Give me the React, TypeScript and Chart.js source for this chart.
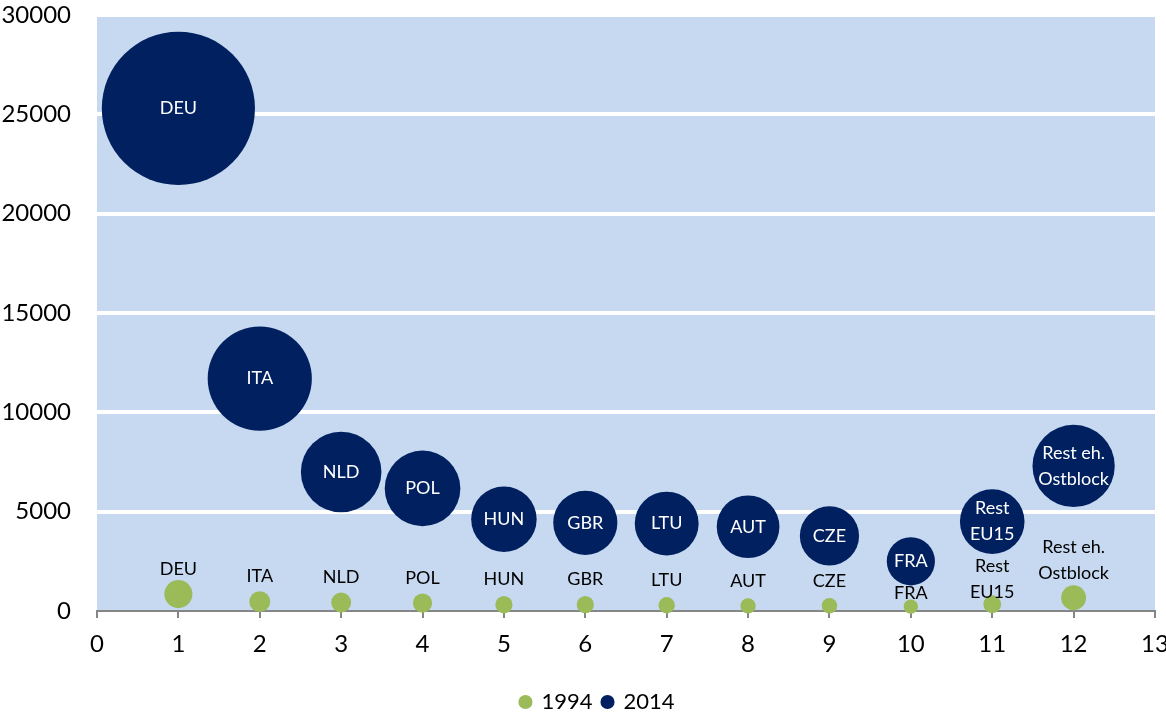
import React, { useEffect, useRef } from "react";
import { Chart, registerables } from "chart.js";

Chart.register(...registerables);

// ---- data ----
const countries = [
  "DEU",
  "ITA",
  "NLD",
  "POL",
  "HUN",
  "GBR",
  "LTU",
  "AUT",
  "CZE",
  "FRA",
  "Rest\nEU15",
  "Rest eh.\nOstblock",
];
const xPositions = [1, 2, 3, 4, 5, 6, 7, 8, 9, 10, 11, 12];
const values1994 = [850, 470, 430, 400, 320, 320, 290, 255, 260, 220, 340, 670];
const values2014 = [25300, 11700, 7000, 6170, 4620, 4440, 4400, 4240, 3780, 2500, 4500, 7300];
const seriesNames = ["1994", "2014"];

// ---- style ----
const GREEN = "#9BBB59";
const NAVY = "#002060";
const PLOT_BG = "#C6D9F1";
const AXIS_GRAY = "#868686";
const FONT = "Lato, 'Open Sans', sans-serif";
const LABEL_FONT_SIZE = 18;
const LABEL_LINE_H = 26;
const LABEL_ABOVE = 25;
const LABEL_NUDGE_1994: Record<string, number> = { FRA: 12, "Rest\nEU15": 13 };
const LEGEND_SHIFT_X = 20;
const LEGEND_SHIFT_Y = 2;

const MAX_VALUE = Math.max(...values1994, ...values2014);

const bgPlugin = {
  id: "plotBg",
  afterLayout(chart: any) {
    const lg = chart.legend;
    if (lg) {
      lg.left += LEGEND_SHIFT_X;
      lg.right += LEGEND_SHIFT_X;
      lg.top += LEGEND_SHIFT_Y;
      lg.bottom += LEGEND_SHIFT_Y;
    }
  },
  beforeDraw(chart: any) {
    const { ctx, chartArea } = chart;
    if (!chartArea) return;
    ctx.save();
    ctx.fillStyle = PLOT_BG;
    ctx.fillRect(chartArea.left, chartArea.top, chartArea.right - chartArea.left, chartArea.bottom - chartArea.top);
    ctx.restore();
  },
};

const labelPlugin = {
  id: "bubbleLabels",
  afterDatasetsDraw(chart: any) {
    const ctx = chart.ctx;
    ctx.save();
    ctx.textAlign = "center";
    ctx.textBaseline = "middle";
    ctx.font = `${LABEL_FONT_SIZE}px ${FONT}`;
    // 1994: labels above
    const m0 = chart.getDatasetMeta(0);
    ctx.fillStyle = "#000";
    m0.data.forEach((el: any, i: number) => {
      const lines = countries[i].split("\n");
      const nudge = LABEL_NUDGE_1994[countries[i]] || 0;
      const lastY = el.y - LABEL_ABOVE + nudge;
      lines.forEach((ln, j) => {
        ctx.fillText(ln, el.x, lastY - (lines.length - 1 - j) * LABEL_LINE_H);
      });
    });
    // 2014: labels centered inside
    const m1 = chart.getDatasetMeta(1);
    ctx.fillStyle = "#FFFFFF";
    m1.data.forEach((el: any, i: number) => {
      const lines = countries[i].split("\n");
      const startY = el.y - ((lines.length - 1) * LABEL_LINE_H) / 2;
      lines.forEach((ln, j) => {
        ctx.fillText(ln, el.x, startY + j * LABEL_LINE_H);
      });
    });
    ctx.restore();
  },
};

function bubbleRadius(c: any) {
  const area = c.chart.chartArea;
  const h = area ? area.bottom - area.top : 596;
  const v = c.raw && typeof c.raw.y === "number" ? c.raw.y : 0;
  return h * 0.1285 * Math.sqrt(v / MAX_VALUE);
}

export default function App() {
  const canvasRef = useRef<HTMLCanvasElement | null>(null);

  useEffect(() => {
    if (!canvasRef.current) return;
    Chart.defaults.font.family = FONT;
    const chart = new Chart(canvasRef.current, {
      type: "bubble",
      data: {
        datasets: [
          {
            label: seriesNames[0],
            data: xPositions.map((x, i) => ({ x, y: values1994[i] })),
            backgroundColor: GREEN,
            borderColor: GREEN,
            borderWidth: 0,
            radius: bubbleRadius,
            clip: false,
          } as any,
          {
            label: seriesNames[1],
            data: xPositions.map((x, i) => ({ x, y: values2014[i] })),
            backgroundColor: NAVY,
            borderColor: NAVY,
            borderWidth: 0,
            radius: bubbleRadius,
            clip: false,
          } as any,
        ],
      },
      options: {
        responsive: false,
        animation: false,
        layout: { autoPadding: false, padding: { top: 15, right: 11, bottom: -8, left: 0 } },
        plugins: {
          tooltip: { enabled: false },
          legend: {
            position: "bottom",
            labels: {
              usePointStyle: true,
              pointStyle: "circle",
              boxWidth: 10,
              boxHeight: 10,
              padding: 10,
              color: "#000",
              font: { size: 22, family: FONT },
            },
          },
        },
        scales: {
          x: {
            type: "linear",
            min: 0,
            max: 13,
            ticks: {
              stepSize: 1,
              color: "#000",
              font: { size: 24, family: FONT },
              padding: 12,
              callback: (v: any) => String(v),
            },
            grid: { drawOnChartArea: false, drawTicks: true, tickLength: 7, tickColor: AXIS_GRAY, lineWidth: 2 },
            border: { display: true, color: AXIS_GRAY, width: 2 },
            afterFit(scale: any) {
              scale.height = 68;
              scale.paddingRight = 11;
              scale.paddingLeft = 0;
            },
          },
          y: {
            type: "linear",
            min: 0,
            max: 30000,
            ticks: {
              stepSize: 5000,
              color: "#000",
              font: { size: 24, family: FONT },
              padding: 22,
              callback: (v: any) => String(v),
            },
            grid: {
              color: (c: any) => (c.tick && c.tick.value === 0 ? "rgba(0,0,0,0)" : "#FFFFFF"),
              tickColor: (c: any) => (c.tick && c.tick.value === 0 ? "rgba(0,0,0,0)" : "#FFFFFF"),
              lineWidth: 4,
              tickLength: 4,
            },
            border: { display: false },
            afterFit(scale: any) {
              scale.width = 97;
              scale.paddingTop = 0;
            },
          },
        },
      } as any,
      plugins: [bgPlugin, labelPlugin],
    });
    return () => chart.destroy();
  }, []);

  return (
    <div style={{ position: "fixed", left: 0, top: 0, width: 1166, height: 713, background: "#fff" }}>
      <canvas ref={canvasRef} width={1166} height={713} style={{ display: "block" }} />
    </div>
  );
}
